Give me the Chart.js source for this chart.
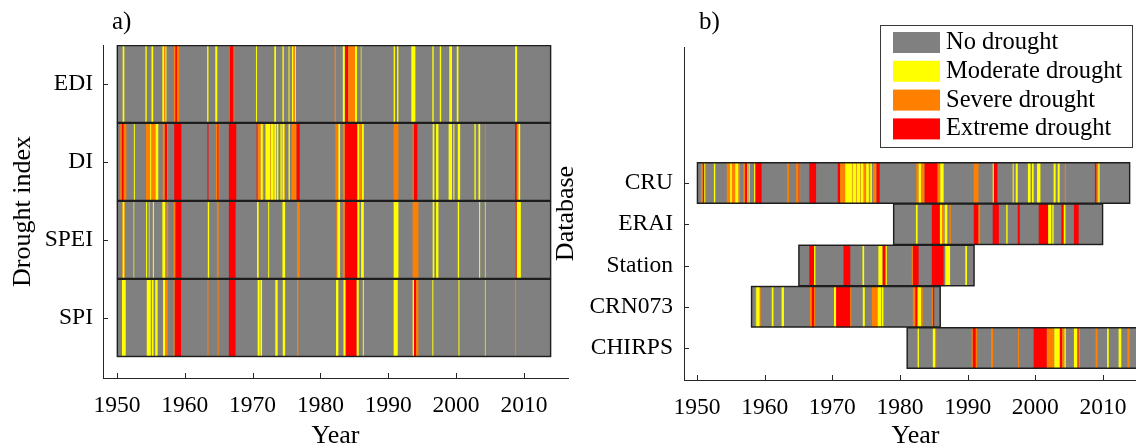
<!DOCTYPE html>
<html><head><meta charset="utf-8">
<script src="https://cdn.jsdelivr.net/npm/chart.js@4/dist/chart.umd.min.js"></script>
<style>
html,body{margin:0;padding:0;background:#fff;width:1136px;height:444px;overflow:hidden;position:relative}
canvas{position:absolute;top:0}
#ca{left:0}
#cb{left:540px}
</style></head><body>
<canvas id="ca" width="590" height="452"></canvas>
<canvas id="cb" width="640" height="452"></canvas>
<script>
// ---------- data ----------
const levelNames = ['No drought','Moderate drought','Severe drought','Extreme drought'];
const levelColors = ['#808080','#ffff00','#ff8000','#ff0000'];
const yearTicks = [1950,1960,1970,1980,1990,2000,2010];

// panel a: drought indices, each episode = [start year, end year, class 1..3]
const indices = ['EDI','DI','SPEI','SPI'];
const indexPeriods = [[1950,2014],[1950,2014],[1950,2014],[1950,2014]];
const EDI = [[1950.85,1951.1,1],[1954.2,1954.4,1],[1955.1,1955.35,1],[1956.7,1956.95,1],[1956.95,1957.15,2],[1957.15,1957.3,1],
 [1958.4,1958.6,2],[1958.6,1958.85,3],[1958.85,1959.2,2],[1963.3,1963.5,1],[1964.5,1964.8,1],[1966.5,1966.6,2],[1966.6,1967.2,3],[1967.2,1967.3,2],
 [1970.5,1970.65,1],[1973.2,1973.45,1],[1974.4,1974.6,1],[1975.3,1975.45,1],[1975.8,1976.0,1],[1976.0,1976.25,2],[1976.25,1976.4,1],
 [1982.1,1982.3,2],[1983.3,1983.6,1],[1983.6,1984.1,3],[1984.1,1985.1,2],[1985.1,1985.4,1],[1985.95,1986.05,1],[1990.8,1991.0,1],
 [1991.3,1991.5,1],[1993.4,1994.0,1],[1996.5,1996.7,1],[1997.6,1997.8,1],[1999.0,1999.4,1],[2000.1,2000.35,1],[2008.7,2009.0,1]];
const DI = [[1950.5,1950.7,2],[1950.7,1951.0,3],[1951.0,1951.4,2],[1952.5,1952.65,1],[1954.3,1954.9,2],[1954.9,1955.05,1],[1955.05,1955.7,2],
 [1955.7,1956.1,1],[1956.75,1957.05,2],[1957.05,1957.4,3],[1957.4,1957.55,2],[1958.45,1959.5,3],[1963.35,1963.5,3],[1964.6,1964.8,2],
 [1964.8,1965.0,3],[1965.0,1965.1,2],[1966.5,1967.6,3],[1970.6,1970.75,3],[1970.75,1971.2,2],[1971.2,1971.5,1],[1971.5,1971.7,2],
 [1971.9,1972.6,1],[1972.6,1972.7,2],[1972.7,1973.1,1],[1973.1,1973.2,2],[1973.2,1973.5,1],[1973.6,1973.8,1],[1974.1,1974.3,1],
 [1974.4,1974.7,1],[1974.7,1974.8,2],[1975.3,1975.5,1],[1975.75,1976.45,2],[1976.45,1976.95,3],[1982.2,1982.65,2],[1982.65,1982.9,1],
 [1983.3,1983.6,2],[1983.6,1985.45,3],[1985.45,1985.7,1],[1985.7,1986.0,2],[1986.1,1986.4,1],[1990.8,1991.5,2],[1993.6,1993.75,2],
 [1993.75,1994.3,3],[1996.55,1996.8,1],[1997.05,1997.4,1],[1998.9,1999.4,1],[1999.6,1999.75,1],[2000.25,2000.6,1],[2002.7,2002.9,1],
 [2003.3,2003.55,1],[2004.25,2004.35,2],[2008.7,2008.95,3],[2008.95,2009.2,2],[2009.2,2009.45,1]];
const SPEI = [[1950.75,1950.85,2],[1950.85,1951.1,1],[1951.1,1951.2,2],[1952.45,1952.55,1],[1954.3,1954.45,1],[1954.7,1954.8,1],
 [1955.3,1955.45,1],[1956.7,1957.1,1],[1957.1,1957.3,2],[1957.4,1957.55,2],[1958.35,1958.6,2],[1958.6,1959.5,3],[1963.4,1963.6,1],
 [1964.75,1965.0,2],[1966.5,1967.5,3],[1970.65,1970.9,1],[1972.3,1972.45,1],[1974.4,1974.8,1],[1976.55,1976.95,2],[1982.35,1982.5,2],
 [1982.5,1982.9,1],[1983.3,1983.6,2],[1983.6,1985.45,3],[1985.45,1985.75,1],[1986.0,1986.4,1],[1990.8,1991.5,1],[1993.6,1994.45,2],
 [1996.55,1996.8,1],[1997.05,1997.4,1],[2000.25,2000.45,1],[2003.4,2003.55,1],[2004.25,2004.35,1],[2008.8,2008.95,3],[2008.95,2009.55,1]];
const SPI = [[1950.75,1951.3,1],[1954.4,1955.0,1],[1955.15,1955.4,1],[1955.65,1956.0,1],[1956.8,1957.1,1],[1957.1,1957.5,2],
 [1958.35,1958.5,2],[1958.5,1959.45,3],[1963.35,1963.5,2],[1964.85,1965.0,2],[1966.5,1967.5,3],[1970.75,1971.05,1],[1971.15,1971.4,1],
 [1973.35,1973.7,1],[1974.45,1974.8,1],[1976.55,1976.75,2],[1982.3,1982.65,1],[1983.4,1983.7,1],[1983.7,1985.35,3],[1985.35,1985.65,1],
 [1986.25,1986.4,1],[1990.8,1991.4,1],[1993.6,1993.8,1],[1993.8,1994.1,3],[1994.1,1994.45,2],[1996.5,1996.65,1],[2000.35,2000.5,1],
 [2004.25,2004.35,1],[2008.7,2008.85,2]];

// panel b: databases
const databases = ['CRU','ERAI','Station','CRN073','CHIRPS'];
const dbPeriods = [[1950,2014],[1979,2010],[1965,1991],[1958,1986],[1981,2016]];
const CRU = [[1950.6,1950.85,2],[1950.85,1951.05,3],[1951.05,1951.15,1],[1951.15,1951.35,2],[1952.5,1952.7,1],[1954.4,1954.9,2],
 [1954.9,1955.15,1],[1955.15,1955.65,2],[1955.65,1956.1,1],[1956.1,1956.35,2],[1956.85,1957.1,2],[1957.1,1957.45,3],[1957.45,1957.6,1],
 [1957.7,1957.8,1],[1958.45,1958.6,1],[1958.6,1959.55,3],[1963.35,1963.6,2],[1964.65,1965.0,2],[1965.0,1965.15,3],[1965.15,1965.25,2],
 [1966.6,1967.6,3],[1970.8,1971.15,3],[1971.15,1971.9,2],[1971.9,1972.9,1],[1972.9,1973.0,2],[1973.0,1973.5,1],[1973.5,1973.6,2],
 [1973.6,1974.1,1],[1974.1,1974.2,2],[1974.2,1974.6,1],[1974.6,1975.0,2],[1975.0,1975.4,1],[1975.4,1975.6,2],[1975.6,1975.85,1],
 [1976.0,1976.5,2],[1976.5,1977.0,3],[1982.4,1982.75,2],[1982.75,1983.1,1],[1983.1,1983.6,2],[1983.6,1985.55,3],[1985.55,1985.95,2],
 [1985.95,1986.45,1],[1990.9,1991.6,2],[1993.7,1993.85,1],[1993.85,1994.4,3],[1996.65,1996.8,1],[1997.1,1997.4,1],[1998.9,1999.3,1],
 [1999.5,1999.75,1],[2000.25,2000.75,1],[2002.7,2003.0,1],[2003.3,2003.6,1],[2004.35,2004.5,2],[2008.8,2009.05,3],[2009.05,2009.3,2],
 [2009.3,2009.5,1]];
const ERAI = [[1982.35,1982.6,1],[1984.7,1985.9,3],[1985.9,1986.2,1],[1986.2,1986.5,2],[1986.6,1987.0,1],[1987.3,1987.5,2],
 [1990.9,1991.6,3],[1991.6,1991.85,2],[1993.7,1994.6,3],[1995.7,1995.9,1],[1997.4,1997.7,3],[2000.5,2001.9,3],[2001.9,2002.35,1],
 [2002.5,2002.7,1],[2003.85,2004.2,3],[2004.2,2004.45,1],[2005.7,2006.4,3]];
const Station = [[1966.6,1967.3,3],[1967.3,1967.5,1],[1971.65,1972.65,3],[1974.45,1974.7,1],[1976.8,1977.4,1],[1977.4,1977.8,3],
 [1977.9,1978.05,1],[1981.75,1981.9,2],[1981.9,1982.75,3],[1984.7,1986.45,3],[1986.7,1987.4,1],[1989.65,1989.9,1]];
const CRN073 = [[1958.6,1958.75,2],[1958.75,1959.25,1],[1959.25,1959.4,2],[1961.05,1961.3,1],[1962.5,1962.85,1],[1966.7,1966.95,2],
 [1966.95,1967.3,3],[1967.3,1967.45,2],[1970.25,1970.55,1],[1970.55,1972.65,3],[1972.65,1972.8,2],[1974.5,1974.8,1],[1975.85,1976.7,2],
 [1976.7,1977.2,1],[1977.3,1977.55,1],[1981.9,1982.25,2],[1982.25,1982.6,3],[1982.6,1983.1,1],[1983.1,1983.35,2],[1984.7,1984.85,2],
 [1984.85,1985.05,3]];
const CHIRPS = [[1982.6,1982.8,1],[1984.85,1985.2,1],[1985.2,1985.35,2],[1990.6,1990.75,2],[1990.75,1991.2,3],[1991.2,1991.4,2],
 [1993.45,1993.75,2],[1997.45,1997.6,2],[1999.75,2001.7,3],[2001.7,2002.8,2],[2002.8,2003.6,1],[2003.6,2003.95,3],[2003.95,2004.3,2],
 [2004.3,2004.5,1],[2005.7,2006.2,1],[2006.2,2006.4,3],[2006.4,2006.6,2],[2008.9,2009.2,2],[2010.6,2010.85,1],[2012.3,2012.7,1],
 [2013.6,2013.95,2]];

// ---------- build ----------
const FONT = '"Liberation Serif", "Times New Roman", serif';
Chart.defaults.font.family = FONT;
Chart.defaults.color = '#000';

function makeDatasets(names, periods, episodes) {
  const n = names.length;
  const pos = i => n - i;
  const rows = names.map((nm, i) => ({x: periods[i], y: pos(i)}));
  const frame = {label: 'frame', data: rows, backgroundColor: 'rgba(0,0,0,0)', borderColor: '#1e1e1e',
    borderWidth: 0.8, borderSkipped: false, order: 0};
  const classes = [3, 2, 1].map(l => ({
    label: levelNames[l],
    data: episodes.flatMap((eps, i) => eps.filter(e => e[2] === l).map(e => ({x: [e[0], e[1]], y: pos(i)}))),
    backgroundColor: levelColors[l], borderWidth: 0, inflateAmount: 0, order: l
  }));
  const bg = {label: levelNames[0], data: rows, backgroundColor: levelColors[0], borderWidth: 0, order: 10};
  return [frame, ...classes, bg];
}

const inwardTicks = {
  id: 'inwardTicks',
  afterDraw(chart) {
    const ctx = chart.ctx, xs = chart.scales.x, ys = chart.scales.y, len = 5;
    ctx.save(); ctx.strokeStyle = '#262626'; ctx.lineWidth = 1; ctx.beginPath();
    xs.ticks.forEach(t => { const p = Math.round(xs.getPixelForValue(t.value)) + 0.5; ctx.moveTo(p, ys.bottom); ctx.lineTo(p, ys.bottom - len); });
    ys.ticks.forEach(t => { const p = Math.round(ys.getPixelForValue(t.value)) + 0.5; ctx.moveTo(xs.left, p); ctx.lineTo(xs.left + len, p); });
    ctx.stroke(); ctx.restore();
  }
};
const panelLabel = {
  id: 'panelLabel',
  afterDraw(chart, args, o) {
    const ctx = chart.ctx; ctx.save();
    ctx.font = '25px ' + FONT; ctx.fillStyle = '#000'; ctx.textBaseline = 'middle'; ctx.textAlign = 'left';
    ctx.fillText(o.text, chart.chartArea.left + o.dx, o.y); ctx.restore();
  }
};
const legendBox = {
  id: 'legendBox',
  afterDraw(chart, args, o) {
    if (!o.show) return;
    const ctx = chart.ctx; ctx.save();
    ctx.fillStyle = '#fff'; ctx.fillRect(o.x, o.y, o.w, o.h);
    ctx.strokeStyle = '#3a3a3a'; ctx.lineWidth = 1; ctx.strokeRect(o.x + 0.5, o.y + 0.5, o.w, o.h);
    ctx.font = '24.5px ' + FONT; ctx.textBaseline = 'middle'; ctx.textAlign = 'left';
    levelNames.forEach((nm, i) => {
      const cy = o.y + o.first + i * o.step;
      ctx.fillStyle = levelColors[i]; ctx.fillRect(o.x + o.sx, cy - o.sh / 2, o.sw, o.sh);
      ctx.fillStyle = '#000'; ctx.fillText(nm, o.x + o.tx, cy);
    });
    ctx.restore();
  }
};

function makeChart(id, names, periods, episodes, cfg) {
  const n = names.length;
  return new Chart(document.getElementById(id), {
    type: 'bar',
    data: {datasets: makeDatasets(names, periods, episodes)},
    plugins: [inwardTicks, panelLabel, legendBox],
    options: {
      indexAxis: 'y', responsive: false, animation: false, devicePixelRatio: 1,
      layout: {padding: cfg.padding},
      datasets: {bar: {grouped: false, barPercentage: 1, categoryPercentage: 1}},
      plugins: {legend: {display: false}, tooltip: {enabled: false},
        panelLabel: cfg.label, legendBox: cfg.legend || {show: false}},
      scales: {
        x: {type: 'linear', min: cfg.xmin, max: cfg.xmax, beginAtZero: false,
          grid: {display: false, drawTicks: false}, border: {display: true, color: '#262626', width: 1},
          afterBuildTicks: s => { s.ticks = yearTicks.map(v => ({value: v})); },
          afterFit: s => { s.height = cfg.xh; },
          ticks: {autoSkip: false, maxRotation: 0, padding: 14, font: {size: 23.5}, callback: v => String(v)},
          title: {display: true, text: 'Year', font: {size: 26, lineHeight: 1.2}, padding: {top: 0, bottom: 0}}},
        y: {type: 'linear', min: cfg.ymin, max: cfg.ymax, offset: false, beginAtZero: false,
          grid: {display: false, drawTicks: false, offset: false}, border: {display: true, color: '#262626', width: 1},
          afterBuildTicks: s => { s.ticks = names.map((nm, i) => ({value: n - i})); },
          afterFit: s => { s.width = cfg.yw; },
          ticks: {autoSkip: false, padding: cfg.ypad, font: {size: 23.5}, callback: v => names[n - v]},
          title: {display: true, text: cfg.ytitle, font: {size: 26, lineHeight: 1.2}, padding: {top: 0, bottom: 0}}}
      }
    }
  });
}

makeChart('ca', indices, indexPeriods, [EDI, DI, SPEI, SPI], {
  padding: {left: 8, right: 22, top: 45, bottom: 0}, yw: 95, xh: 74,
  xmin: 1947.95, xmax: 2016.5, ymin: 0.23, ymax: 4.5, ypad: 10,
  ytitle: 'Drought index', label: {text: 'a)', dx: 9, y: 22}
});
makeChart('cb', databases, dbPeriods, [CRU, ERAI, Station, CRN073, CHIRPS], {
  padding: {left: 11, right: 33, top: 47, bottom: 0}, yw: 133, xh: 72,
  xmin: 1948.08, xmax: 2016.5, ymin: 0.224, ymax: 8.3, ypad: 11,
  ytitle: 'Database', label: {text: 'b)', dx: 15, y: 22},
  legend: {show: true, x: 340, y: 25, w: 252, h: 122, sx: 13, sw: 47, sh: 21, tx: 66, first: 17.5, step: 28.8}
});
</script>
</body></html>
